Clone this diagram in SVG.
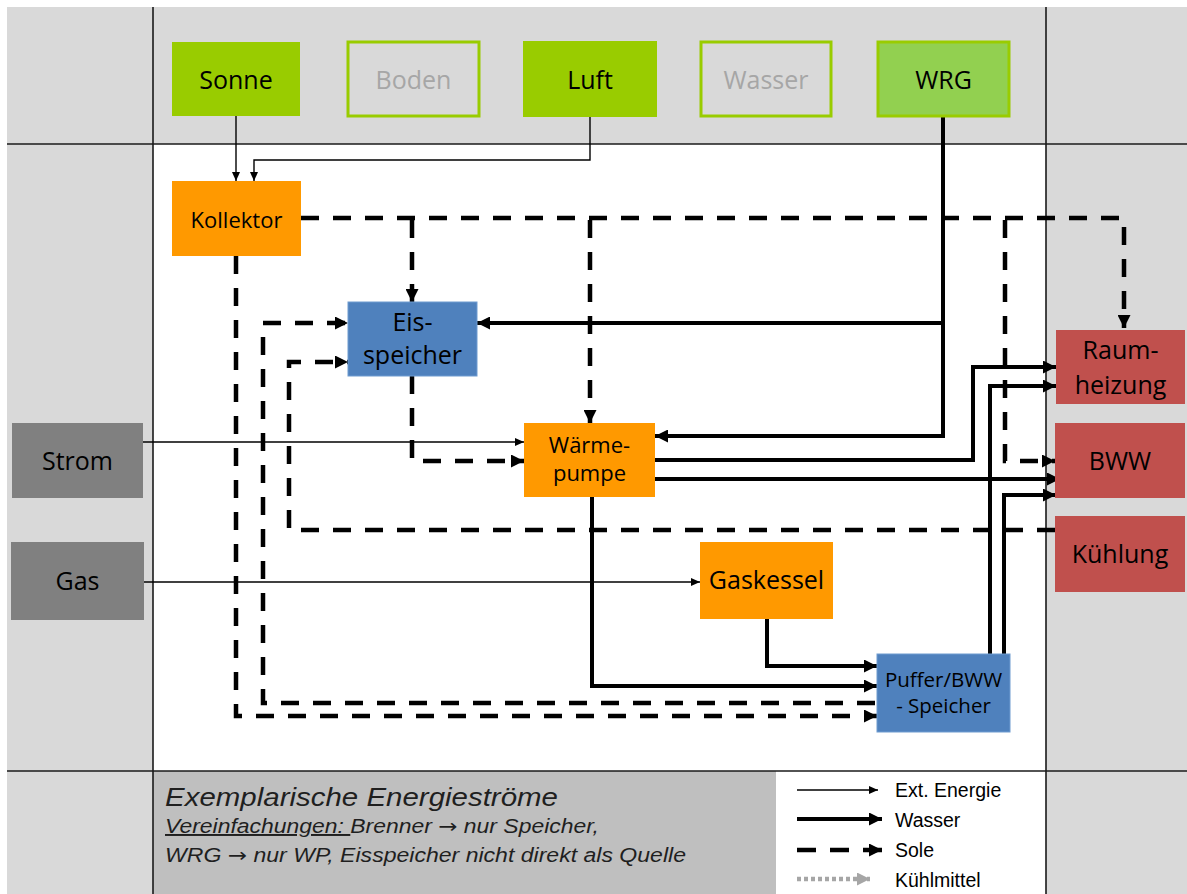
<svg xmlns="http://www.w3.org/2000/svg" width="1187" height="894" viewBox="0 0 1187 894">
  <defs>
    <style>
      .band { fill: #d9d9d9; }
      .grid { stroke: #1a1a1a; stroke-width: 1.6; fill: none; }
      .lbl { font-family: "Open Sans", "Noto Sans", sans-serif; fill: #000; text-anchor: middle; }
      .big { font-size: 25px; }
      .mid { font-size: 22px; }
      .sml { font-size: 20.5px; }
      .dim { fill: #a6a6a6; }
      .src { fill: #99cc00; }
      .srcOut { fill: #d9d9d9; stroke: #99cc00; stroke-width: 3; }
      .wrg { fill: #92d050; stroke: #99cc00; stroke-width: 3; }
      .orange { fill: #ff9900; }
      .blue { fill: #4f81bd; stroke: #6f9bd0; stroke-width: 1; }
      .red { fill: #c0504d; }
      .grey { fill: #808080; }
      .thin { stroke: #000; stroke-width: 1.4; fill: none; marker-end: url(#headThin); }
      .water { stroke: #000; stroke-width: 4; fill: none; stroke-linejoin: miter; }
      .waterArr { marker-end: url(#headThick); }
      .brine { stroke: #000; stroke-width: 4.5; fill: none; stroke-dasharray: 18 14; }
      .brineArr { marker-end: url(#headThick); }
      .note { font-family: "Liberation Sans", Arial, sans-serif; font-style: italic; fill: #1f1f1f; }
      .arr { font-family: "DejaVu Sans", sans-serif; font-style: normal; }
      .leg { font-family: "Liberation Sans", Arial, sans-serif; font-size: 19.5px; fill: #000; }
    </style>
    <marker id="headThick" markerUnits="userSpaceOnUse" markerWidth="13" markerHeight="13" refX="13" refY="6.5" orient="auto">
      <path d="M0,0 L13,6.5 L0,13 z" fill="#000"/>
    </marker>
    <marker id="headThin" markerUnits="userSpaceOnUse" markerWidth="9" markerHeight="8" refX="9" refY="4" orient="auto">
      <path d="M0,0 L9,4 L0,8 z" fill="#000"/>
    </marker>
    <marker id="headGrey" markerUnits="userSpaceOnUse" markerWidth="13" markerHeight="13" refX="13" refY="6.5" orient="auto">
      <path d="M0,0 L13,6.5 L0,13 z" fill="#a6a6a6"/>
    </marker>
  </defs>

  <!-- page background and bands -->
  <rect x="0" y="0" width="1187" height="894" fill="#ffffff"/>
  <rect class="band" x="7" y="7" width="1180" height="887"/>
  <rect x="153" y="144" width="893" height="627" fill="#ffffff"/>
  <rect x="153" y="771" width="623" height="123" fill="#bfbfbf"/>
  <rect x="776" y="771" width="270" height="123" fill="#ffffff"/>
  <g id="grid">
    <line class="grid" x1="153" y1="7" x2="153" y2="894"/>
    <line class="grid" x1="1046" y1="7" x2="1046" y2="894"/>
    <line class="grid" x1="7" y1="144" x2="1187" y2="144"/>
    <line class="grid" x1="7" y1="771" x2="1187" y2="771"/>
  </g>

  <!-- connectors -->
  <g id="connectors">
    <!-- external energy -->
    <path class="thin" d="M236,116 V181"/>
    <path class="thin" d="M590,117 V160 H254 V181"/>
    <path class="thin" d="M143,442 H524"/>
    <path class="thin" d="M144,582 H700"/>

    <!-- brine (Sole) -->
    <path class="brine brineArr" d="M301,218 H1124 V328"/>
    <path class="brine brineArr" d="M412,220 V302"/>
    <path class="brine brineArr" d="M590,220 V423"/>
    <path class="brine brineArr" d="M1005,220 V461 H1055"/>
    <path class="brine brineArr" d="M236,256 V716 H877"/>
    <path class="brine brineArr" d="M875,703 H263 V323 H348"/>
    <path class="brine brineArr" d="M1055,530 H289 V362 H348"/>
    <path class="brine brineArr" d="M412,376 V461 H524"/>

    <!-- water (Wasser) -->
    <path class="water waterArr" d="M943,117 V436 H655"/>
    <path class="water waterArr" d="M943,323 H477"/>
    <path class="water waterArr" d="M655,460 H973 V367 H1056"/>
    <path class="water waterArr" d="M655,479 H1060"/>
    <path class="water waterArr" d="M592,497 V686 H877"/>
    <path class="water waterArr" d="M767,619 V666 H877"/>
    <path class="water waterArr" d="M990,654 V386 H1056"/>
    <path class="water waterArr" d="M1004,654 V495 H1056"/>
  </g>

  <!-- sources -->
  <g id="sonne"><rect class="src" x="172" y="42" width="128" height="74"/><text class="lbl big" x="236" y="89">Sonne</text></g>
  <g id="boden"><rect class="srcOut" x="348" y="42" width="131" height="74"/><text class="lbl big dim" x="413.5" y="89">Boden</text></g>
  <g id="luft"><rect class="src" x="523" y="41" width="134" height="76"/><text class="lbl big" x="590" y="89">Luft</text></g>
  <g id="wasser"><rect class="srcOut" x="701" y="42" width="130" height="74"/><text class="lbl big dim" x="766" y="89">Wasser</text></g>
  <g id="wrg"><rect class="wrg" x="878" y="42" width="131" height="74"/><text class="lbl big" x="943.5" y="89">WRG</text></g>

  <!-- converters and storage -->
  <g id="kollektor"><rect class="orange" x="172" y="181" width="129" height="75"/><text class="lbl mid" x="236.5" y="228">Kollektor</text></g>
  <g id="eisspeicher"><rect class="blue" x="348" y="302" width="129" height="74"/><text class="lbl big" x="412.5" y="331">Eis-</text><text class="lbl big" x="412.5" y="364">speicher</text></g>
  <g id="waermepumpe"><rect class="orange" x="524" y="423" width="131" height="74"/><text class="lbl mid" x="589.5" y="453">Wärme-</text><text class="lbl mid" x="589.5" y="481">pumpe</text></g>
  <g id="gaskessel"><rect class="orange" x="700" y="542" width="133" height="77"/><text class="lbl big" x="766.5" y="589">Gaskessel</text></g>
  <g id="puffer"><rect class="blue" x="877" y="654" width="133" height="78"/><text class="lbl sml" x="943.5" y="687">Puffer/BWW</text><text class="lbl sml" x="943.5" y="713">- Speicher</text></g>

  <!-- grid energy -->
  <g id="strom"><rect class="grey" x="12" y="423" width="131" height="75"/><text class="lbl big" x="77.5" y="470">Strom</text></g>
  <g id="gas"><rect class="grey" x="11" y="542" width="133" height="78"/><text class="lbl big" x="77.5" y="590">Gas</text></g>

  <!-- consumers -->
  <g id="raumheizung"><rect class="red" x="1056" y="330" width="129" height="74"/><text class="lbl big" x="1120.5" y="359">Raum-</text><text class="lbl big" x="1120.5" y="394">heizung</text></g>
  <g id="bww"><rect class="red" x="1055" y="423" width="130" height="75"/><text class="lbl big" x="1120" y="470">BWW</text></g>
  <g id="kuehlung"><rect class="red" x="1055" y="516" width="130" height="76"/><text class="lbl big" x="1120" y="563">Kühlung</text></g>

  <!-- notes -->
  <g id="notes">
    <text class="note" x="165" y="806" font-size="26.5" textLength="393" lengthAdjust="spacingAndGlyphs">Exemplarische Energieströme</text>
    <text class="note" x="165" y="833" font-size="19.5" textLength="434" lengthAdjust="spacingAndGlyphs"><tspan text-decoration="underline">Vereinfachungen: </tspan>Brenner <tspan class="arr">→</tspan> nur Speicher,</text>
    <text class="note" x="165" y="862" font-size="19.5" textLength="521" lengthAdjust="spacingAndGlyphs">WRG <tspan class="arr">→</tspan> nur WP, Eisspeicher nicht direkt als Quelle</text>
  </g>

  <!-- legend -->
  <g id="legend">
    <path class="thin" d="M797,790 H878"/>
    <path class="water waterArr" d="M797,819 H882"/>
    <path class="brine brineArr" d="M797,850 H882" style="stroke-dasharray: 19 14;"/>
    <path d="M797,879 H870" stroke="#a6a6a6" stroke-width="4.5" fill="none" stroke-dasharray="4 3" marker-end="url(#headGrey)"/>
    <text class="leg" x="895" y="797">Ext. Energie</text>
    <text class="leg" x="895" y="827">Wasser</text>
    <text class="leg" x="895" y="857">Sole</text>
    <text class="leg" x="895" y="887">Kühlmittel</text>
  </g>
</svg>
